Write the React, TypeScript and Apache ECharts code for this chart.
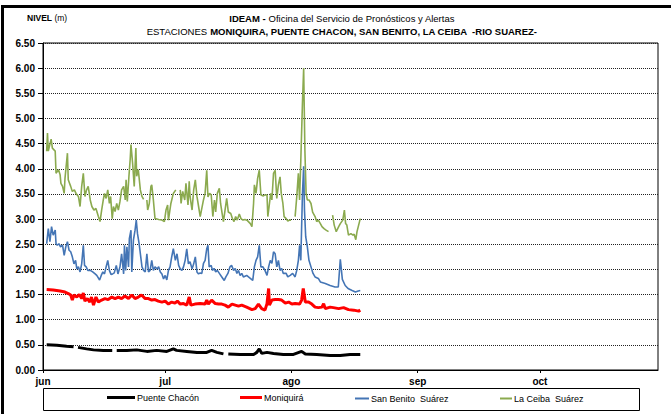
import React, { useEffect, useRef } from "react";
import * as echarts from "echarts";

// x values are days counted from 1 June
const monthTickDays = [0, 30, 61, 92, 122];
const monthNames = ["jun", "jul", "ago", "sep", "oct"];
const yTicks = { min: 0, max: 6.5, step: 0.5 };

const seriesNames = ["Puente Chacón", "Moniquirá", "San Benito  Suárez", "La Ceiba  Suárez"];
const seriesColors = ["#000000", "#FF0000", "#4475B5", "#8BAA4F"];
const seriesWidths = [3, 3, 1.6, 1.6];

type Pt = [number, number | null];

const puenteChacon: Pt[] = [
  [0.9, 0.5], [3.4, 0.49], [5.8, 0.47], [7.5, 0.46], [8.0, null], [8.6, 0.45], [10.7, 0.42], [12.4, 0.4],
  [14.8, 0.39], [17.0, 0.39], [17.5, null], [18.1, 0.39], [20.6, 0.39], [23.0, 0.4], [25.5, 0.37],
  [27.9, 0.39], [30.4, 0.37], [32.0, 0.42], [32.8, 0.39], [35.3, 0.37], [37.8, 0.35], [40.2, 0.35],
  [41.4, 0.39], [42.7, 0.35], [44.3, 0.32], [44.9, null], [45.5, 0.32], [48.4, 0.31], [51.7, 0.31],
  [52.5, 0.35], [53.1, 0.42], [53.7, 0.33], [55.0, 0.35], [56.6, 0.33], [59.0, 0.31], [61.5, 0.31],
  [63.5, 0.37], [64.4, 0.32], [67.2, 0.31], [70.5, 0.29], [73.0, 0.29], [75.4, 0.31], [77.9, 0.31],
];

const moniquira: Pt[] = [
  [0.9, 1.6], [2.5, 1.59], [4.2, 1.57], [5.4, 1.55], [6.2, 1.52], [6.8, 1.49], [7.2, 1.39], [7.6, 1.49],
  [8.3, 1.45], [8.9, 1.5], [9.5, 1.42], [9.9, 1.53], [10.3, 1.37], [10.9, 1.42], [11.5, 1.35], [11.9, 1.45],
  [12.4, 1.29], [13.0, 1.45], [13.6, 1.35], [14.4, 1.39], [15.2, 1.42], [16.0, 1.4], [16.9, 1.45],
  [17.7, 1.42], [18.5, 1.45], [19.3, 1.42], [20.1, 1.47], [21.0, 1.42], [21.8, 1.49], [22.6, 1.42],
  [23.4, 1.45], [24.2, 1.49], [25.1, 1.42], [25.9, 1.42], [26.7, 1.39], [27.5, 1.4], [28.3, 1.37],
  [29.2, 1.35], [30.0, 1.37], [30.8, 1.31], [31.6, 1.35], [32.4, 1.33], [33.0, 1.37], [33.7, 1.31],
  [34.5, 1.32], [35.3, 1.29], [35.9, 1.45], [36.3, 1.29], [37.3, 1.31], [38.6, 1.32], [39.8, 1.31],
  [40.2, 1.39], [40.6, 1.31], [41.4, 1.39], [42.3, 1.32], [43.1, 1.31], [43.9, 1.31], [44.7, 1.29],
  [45.5, 1.25], [46.4, 1.31], [47.2, 1.29], [48.0, 1.27], [48.8, 1.29], [50.0, 1.25], [51.3, 1.2],
  [52.1, 1.22], [52.9, 1.31], [53.7, 1.22], [54.5, 1.19], [55.0, 1.32], [55.4, 1.62], [55.6, 1.29],
  [56.2, 1.39], [57.0, 1.4], [57.8, 1.4], [58.6, 1.39], [59.5, 1.33], [60.3, 1.35], [61.1, 1.31],
  [61.9, 1.32], [63.0, 1.31], [63.5, 1.39], [63.9, 1.62], [64.4, 1.35], [65.2, 1.35], [66.0, 1.31],
  [66.8, 1.25], [67.6, 1.24], [68.5, 1.25], [68.9, 1.32], [69.3, 1.22], [70.5, 1.25], [71.3, 1.24],
  [72.6, 1.22], [73.8, 1.24], [75.0, 1.2], [76.3, 1.19], [77.5, 1.17], [77.9, 1.19],
];

const sanBenito: Pt[] = [
  [0.9, 2.51], [1.3, 2.81], [1.7, 2.55], [2.1, 2.85], [2.5, 2.68], [3.0, 2.78], [3.2, 2.51], [3.5, 2.48],
  [3.9, 2.51], [4.3, 2.45], [4.8, 2.48], [5.2, 2.28], [5.6, 2.45], [6.0, 2.55], [6.4, 2.38], [6.8, 2.35],
  [7.2, 2.25], [7.6, 2.11], [8.0, 2.18], [8.3, 2.01], [8.7, 2.05], [9.1, 1.95], [9.5, 2.11], [9.9, 2.48],
  [10.2, 2.08], [10.6, 2.05], [11.0, 1.98], [11.6, 1.98], [12.2, 1.95], [12.8, 1.91], [13.2, 1.88],
  [13.9, 1.79], [14.3, 1.88], [14.7, 1.95], [15.1, 1.91], [15.5, 2.05], [15.9, 2.18], [16.3, 1.98],
  [16.7, 1.9], [17.1, 1.91], [17.5, 1.93], [18.0, 2.08], [18.4, 1.91], [18.9, 2.05], [19.3, 2.31],
  [19.8, 1.91], [20.0, 2.48], [20.3, 1.98], [20.6, 2.45], [21.0, 2.05], [21.2, 2.61], [21.6, 2.78],
  [21.8, 1.95], [22.2, 2.58], [22.6, 2.78], [22.9, 2.98], [23.2, 2.71], [23.6, 2.51], [24.0, 2.25],
  [24.3, 2.05], [24.7, 1.98], [25.1, 1.95], [25.5, 2.31], [25.9, 1.95], [26.3, 1.98], [26.7, 2.18],
  [27.1, 1.98], [27.5, 2.05], [28.0, 2.01], [28.4, 2.05], [28.8, 1.95], [29.2, 1.91], [29.6, 1.81],
  [30.0, 1.88], [30.4, 1.79], [30.8, 1.98], [31.2, 2.05], [31.6, 2.25], [32.0, 2.41], [32.5, 2.18],
  [32.9, 2.31], [33.3, 2.08], [33.7, 2.01], [34.1, 1.98], [34.5, 2.05], [34.9, 2.18], [35.3, 2.41],
  [35.7, 2.11], [36.1, 2.15], [36.6, 2.01], [37.0, 2.11], [37.4, 2.25], [37.8, 1.95], [38.2, 1.91],
  [38.6, 1.93], [39.0, 1.92], [39.4, 2.12], [39.8, 2.18], [40.2, 2.41], [40.5, 2.48], [40.8, 2.05],
  [41.3, 2.08], [41.6, 1.98], [42.0, 2.02], [42.4, 1.95], [42.8, 1.98], [43.3, 1.92], [43.9, 1.85],
  [44.5, 1.78], [44.9, 1.85], [45.4, 1.92], [45.9, 2.05], [46.3, 2.08], [46.8, 1.98], [47.2, 2.02],
  [47.6, 1.92], [48.0, 1.98], [48.4, 1.88], [48.8, 1.92], [49.2, 1.85], [50.0, 1.88], [50.9, 1.82],
  [51.5, 1.78], [51.9, 2.05], [52.3, 2.18], [52.7, 2.25], [53.1, 2.48], [53.5, 2.05], [54.0, 2.05],
  [54.5, 1.98], [55.0, 1.88], [55.4, 2.05], [55.8, 2.18], [56.2, 2.12], [56.6, 2.35], [57.0, 2.31],
  [57.4, 2.05], [57.8, 2.18], [58.2, 1.98], [58.6, 2.02], [59.0, 1.92], [59.7, 1.92], [60.1, 1.85],
  [60.7, 1.88], [61.3, 1.92], [61.9, 1.85], [62.3, 1.98], [62.7, 2.18], [63.0, 2.48], [63.3, 2.18],
  [63.7, 3.5], [64.0, 4.05], [64.2, 3.18], [64.5, 2.65], [64.9, 2.45], [65.3, 2.18], [65.8, 2.05],
  [66.3, 1.92], [66.8, 1.85], [67.6, 1.82], [68.1, 1.75], [69.3, 1.72], [70.5, 1.68], [71.7, 1.65],
  [72.5, 1.65], [73.0, 2.2], [73.5, 1.8], [74.2, 1.68], [74.9, 1.62], [75.9, 1.58], [76.7, 1.55],
  [77.4, 1.57], [77.9, 1.58],
];

const laCeiba: Pt[] = [
  [0.9, 4.35], [1.1, 4.71], [1.3, 4.35], [2.0, 4.59], [2.3, 4.41], [3.0, 4.35], [3.2, 3.91], [3.8, 3.98],
  [4.2, 3.88], [4.4, 3.71], [4.8, 3.65], [5.2, 3.51], [5.4, 3.81], [6.0, 4.31], [6.2, 3.78], [6.8, 3.65],
  [7.2, 3.55], [7.7, 3.58], [8.1, 3.51], [8.7, 3.45], [9.1, 3.25], [9.5, 3.65], [9.9, 3.91], [10.3, 3.45],
  [10.7, 3.58], [11.1, 3.65], [11.6, 3.38], [12.0, 3.25], [12.5, 3.18], [13.0, 3.21], [13.6, 3.05],
  [14.0, 2.95], [14.4, 3.18], [14.8, 3.38], [15.1, 3.51], [15.5, 3.41], [15.9, 3.58], [16.3, 3.31],
  [16.6, 3.45], [17.0, 3.01], [17.3, 3.25], [17.7, 3.15], [18.1, 3.31], [18.5, 3.18], [18.9, 3.35],
  [19.3, 3.58], [19.8, 3.65], [20.2, 3.38], [20.4, 3.78], [20.7, 3.35], [21.1, 3.85], [21.4, 4.18],
  [21.6, 4.48], [22.0, 4.11], [22.4, 3.65], [22.8, 4.41], [23.0, 3.85], [23.4, 3.98], [23.9, 3.58],
  [24.3, 3.45], [24.7, 3.39], [25.1, null], [25.5, 3.38], [25.7, 3.18], [26.1, 3.31], [26.5, 3.65],
  [26.7, 3.68], [27.1, 3.38], [27.5, 3.01], [28.4, 2.99], [29.2, 2.98], [29.8, 2.95], [30.2, 3.18],
  [30.6, 3.28], [30.8, 2.98], [31.4, 3.31], [32.0, 3.51], [32.6, 3.58], [33.1, null], [33.7, 3.58],
  [33.9, 3.31], [34.3, 3.55], [34.8, 3.38], [35.1, 3.71], [35.6, 3.28], [35.9, 3.75], [36.1, 3.45],
  [36.6, 3.18], [37.0, 3.58], [37.4, 3.78], [37.8, 3.45], [38.2, 3.25], [38.6, 3.05], [39.4, 3.38],
  [39.8, 3.51], [40.2, 3.97], [40.5, 3.44], [40.9, 3.51], [41.3, 3.48], [41.7, 3.05], [42.1, 3.38],
  [42.4, 3.14], [42.8, 3.51], [43.3, 3.61], [43.6, 3.31], [44.1, 3.05], [44.3, 2.95], [44.7, 3.18],
  [45.1, 3.41], [45.5, 3.14], [46.1, 3.11], [46.5, 3.01], [46.9, 2.95], [47.3, 3.05], [47.7, 2.98],
  [48.2, 3.1], [48.6, 3.01], [49.1, 2.98], [49.6, 2.99], [50.2, 2.97], [50.9, 2.91], [51.3, 2.85],
  [51.7, 3.31], [51.9, 3.68], [52.3, 3.51], [52.7, 3.81], [53.1, 3.97], [53.5, 3.48], [54.1, 3.46],
  [54.5, 3.48], [55.0, 3.48], [55.2, 3.05], [55.5, 3.24], [55.9, 3.51], [56.2, 3.38], [56.6, 3.91],
  [57.0, 3.97], [57.4, 3.41], [57.8, 3.68], [58.2, 3.84], [58.5, 3.51], [58.9, 3.31], [59.2, 3.05],
  [59.7, 3.01], [60.1, 2.96], [60.5, 2.98], [60.9, 2.98], [61.4, null], [61.9, 3.05], [62.3, 3.44],
  [62.7, 3.91], [63.0, 3.38], [63.3, 4.17], [63.7, 5.3], [64.0, 6.0], [64.3, 4.37], [64.6, 3.51],
  [64.9, 3.38], [65.3, 3.38], [65.8, 3.31], [66.2, 3.14], [66.8, 3.05], [67.2, 2.95], [67.6, 2.98],
  [68.1, 2.91], [68.5, 2.85], [69.0, 2.81], [69.5, 2.78], [70.1, 2.75], [70.6, null], [71.1, 3.08],
  [71.5, 2.88], [72.0, 2.75], [72.6, 2.85], [73.0, 2.91], [73.6, 2.98], [74.0, 3.18], [74.3, 2.91],
  [74.6, 2.88], [75.0, 2.68], [75.6, 2.71], [76.1, 2.68], [76.4, 2.7], [76.8, 2.59], [77.1, 2.75],
  [77.5, 2.88], [77.9, 3.01],
];

const seriesData = [puenteChacon, moniquira, sanBenito, laCeiba];

const SANS = '"Liberation Sans", Arial, sans-serif';

// legend entry layout (sample left edge, sample length, sample thickness)
const legendLeft = [107, 240, 355, 500];
const legendSampleLen = [28, 22, 14, 12];
const legendSampleThick = [3, 3, 2, 2];

export default function App() {
  const ref = useRef<HTMLDivElement>(null);

  useEffect(() => {
    if (!ref.current) return;
    const chart = echarts.init(ref.current, null, { renderer: "svg" });
    const option: any = {
      animation: false,
      backgroundColor: "#ffffff",
      title: [
        {
          text: "{b|NIVEL}{n| (m)}",
          left: 27,
          top: 13,
          padding: 0,
          textStyle: {
            fontWeight: "normal",
            rich: {
              b: { fontFamily: SANS, fontSize: 8.5, fontWeight: "bold", color: "#000" },
              n: { fontFamily: SANS, fontSize: 8.5, fontWeight: "normal", color: "#000" },
            },
          },
        },
        {
          text:
            "{b|IDEAM -}{n| Oficina del Servicio de Pronósticos y Alertas}\n{n|ESTACIONES }{b|MONIQUIRA, PUENTE CHACON, SAN BENITO, LA CEIBA  -RIO SUAREZ-}",
          left: 342,
          textAlign: "center",
          top: 12,
          padding: 0,
          textStyle: {
            fontWeight: "normal",
            lineHeight: 13,
            rich: {
              b: { fontFamily: SANS, fontSize: 9.5, fontWeight: "bold", color: "#000", lineHeight: 13 },
              n: { fontFamily: SANS, fontSize: 9.5, fontWeight: "normal", color: "#000", lineHeight: 13 },
            },
          },
        },
      ],
      graphic: [
        {
          type: "rect",
          silent: true,
          shape: { x: 2.5, y: 6.5, width: 720, height: 460 },
          style: { fill: "none", stroke: "#000", lineWidth: 3 },
        },
        {
          type: "rect",
          silent: true,
          shape: { x: 43.5, y: 388.5, width: 596, height: 22 },
          style: { fill: "none", stroke: "#000", lineWidth: 1 },
        },
      ],
      legend: seriesNames.map((name, i) => ({
        left: legendLeft[i],
        top: 399 - Math.ceil(legendSampleThick[i] / 2) - 4,
        itemWidth: legendSampleLen[i],
        itemHeight: legendSampleThick[i],
        itemGap: 0,
        icon: "rect",
        padding: 0,
        data: [name],
        textStyle: { fontFamily: SANS, fontSize: 9, color: "#000", padding: [0, 0, 0, -3] },
      })),
      grid: {
        left: 43,
        top: 43,
        right: 13,
        bottom: 44,
        show: true,
        borderColor: "#000",
        borderWidth: 1,
      },
      xAxis: {
        type: "value",
        min: 0,
        max: 151,
        axisLine: { show: true, lineStyle: { color: "#000", width: 1 } },
        axisTick: { show: true, customValues: monthTickDays, length: 3, lineStyle: { color: "#000" } },
        axisLabel: {
          customValues: monthTickDays,
          formatter: (v: number) => monthNames[monthTickDays.indexOf(Math.round(v))] ?? "",
          fontFamily: SANS,
          fontSize: 10,
          fontWeight: "bold",
          color: "#000",
          margin: 6,
        },
        splitLine: { show: false },
      },
      yAxis: {
        type: "value",
        min: yTicks.min,
        max: yTicks.max,
        interval: yTicks.step,
        axisLine: { show: true, lineStyle: { color: "#000", width: 1 } },
        axisTick: { show: true, length: 5, lineStyle: { color: "#000" } },
        axisLabel: {
          formatter: (v: number) => v.toFixed(2),
          fontFamily: SANS,
          fontSize: 10,
          fontWeight: "bold",
          color: "#000",
          margin: 8,
        },
        splitLine: { show: true, lineStyle: { color: "#222", width: 1, type: [1, 1] } },
      },
      series: seriesNames.map((name, i) => ({
        name,
        type: "line",
        symbol: "none",
        showSymbol: false,
        connectNulls: false,
        color: seriesColors[i],
        lineStyle: { color: seriesColors[i], width: seriesWidths[i] },
        data: seriesData[i].map(([d, v]) => [d, v === null ? "-" : v]),
      })),
    };
    chart.setOption(option);
    return () => chart.dispose();
  }, []);

  return (
    <div
      ref={ref}
      style={{ position: "fixed", left: 0, top: 0, width: 671, height: 414, background: "#fff" }}
    />
  );
}
